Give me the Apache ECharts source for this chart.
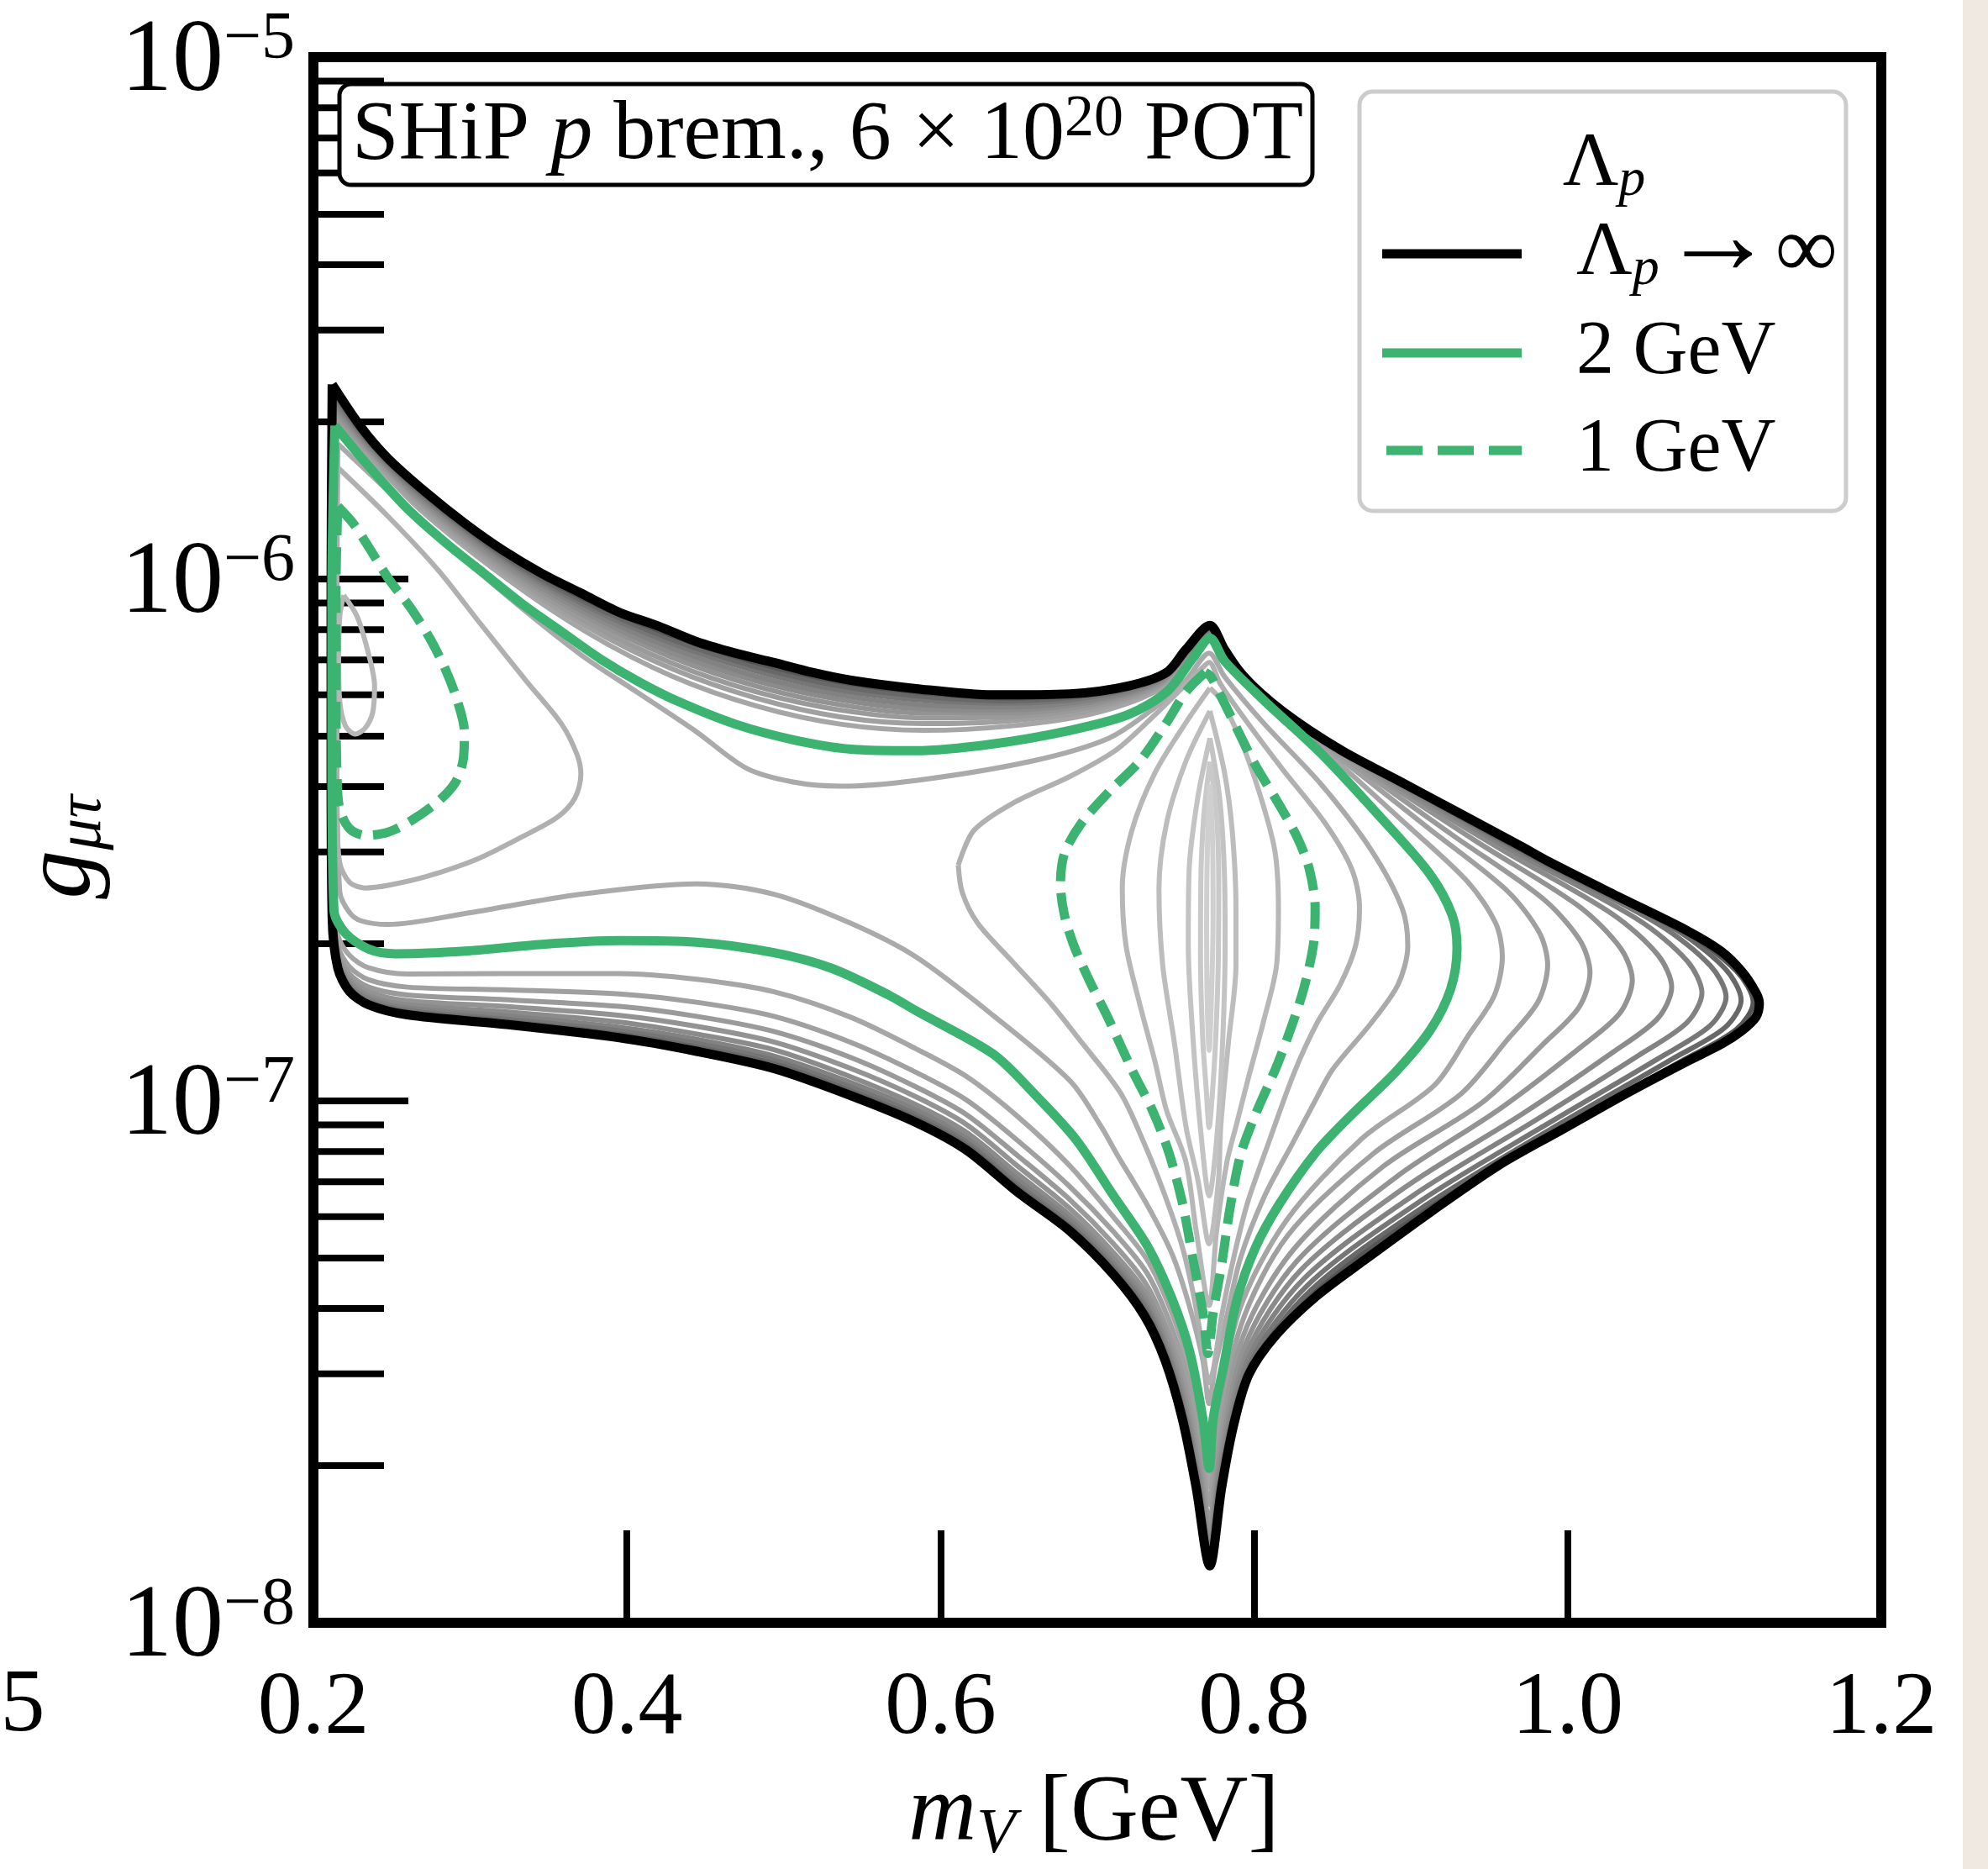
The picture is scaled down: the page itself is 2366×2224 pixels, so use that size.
<!DOCTYPE html>
<html><head><meta charset="utf-8">
<script src="https://cdn.jsdelivr.net/npm/echarts@6/dist/echarts.min.js"></script>
<style>html,body{margin:0;padding:0;background:#fff}#c{width:2366px;height:2224px}</style>
</head><body><div id="c"></div>
<script>
// ---- axis ticks ----
const xTicks = [0.2, 0.4, 0.6, 0.8, 1.0, 1.2];
const yMajorTicks = [1e-8, 1e-7, 1e-6, 1e-5];
const yMinorTicks = [2e-8,3e-8,4e-8,5e-8,6e-8,7e-8,8e-8,9e-8,
                     2e-7,3e-7,4e-7,5e-7,6e-7,7e-7,8e-7,9e-7,
                     2e-6,3e-6,4e-6,5e-6,6e-6,7e-6,8e-6,9e-6];
// ---- contours: [m_V (GeV), log10 g_mu_tau] ----
const blackInf = [[0.2120,-5.627],[0.2304,-5.709],[0.2476,-5.769],[0.2722,-5.835],[0.2968,-5.894],[0.3214,-5.946],[0.3460,-5.990],[0.3706,-6.027],[0.3952,-6.064],[0.4198,-6.090],[0.4444,-6.120],[0.4690,-6.142],[0.4937,-6.160],[0.5183,-6.179],[0.5429,-6.194],[0.5843,-6.210],[0.6334,-6.222],[0.6827,-6.220],[0.7196,-6.205],[0.7442,-6.179],[0.7565,-6.135],[0.7718,-6.089],[0.7811,-6.135],[0.7934,-6.187],[0.8180,-6.253],[0.8549,-6.327],[0.8918,-6.386],[0.9287,-6.445],[0.9701,-6.512],[0.9888,-6.543],[1.0325,-6.609],[1.0763,-6.674],[1.0982,-6.714],[1.1113,-6.753],[1.1201,-6.793],[1.1222,-6.813],[1.1201,-6.839],[1.1113,-6.865],[1.0982,-6.891],[1.0763,-6.924],[1.0360,-6.988],[0.9964,-7.055],[0.9567,-7.122],[0.9139,-7.210],[0.8704,-7.305],[0.8394,-7.375],[0.8136,-7.450],[0.7965,-7.525],[0.7870,-7.620],[0.7793,-7.740],[0.7717,-7.891],[0.7630,-7.740],[0.7542,-7.609],[0.7432,-7.497],[0.7301,-7.412],[0.7104,-7.333],[0.6820,-7.248],[0.6492,-7.175],[0.6164,-7.094],[0.5842,-7.041],[0.5429,-6.990],[0.4937,-6.938],[0.4444,-6.905],[0.3952,-6.879],[0.3214,-6.853],[0.2599,-6.835],[0.2353,-6.816],[0.2230,-6.790],[0.2156,-6.746],[0.2120,-6.650],[0.2113,-6.342],[0.2113,-6.020],[0.2120,-5.627]];
const green2GeV = [[0.2137,-5.706],[0.2353,-5.784],[0.2599,-5.865],[0.2845,-5.931],[0.3091,-5.990],[0.3337,-6.049],[0.3583,-6.101],[0.3830,-6.153],[0.4076,-6.197],[0.4322,-6.234],[0.4690,-6.278],[0.5060,-6.308],[0.5429,-6.326],[0.5842,-6.329],[0.6334,-6.316],[0.6827,-6.290],[0.7196,-6.260],[0.7442,-6.216],[0.7614,-6.150],[0.7718,-6.113],[0.7811,-6.157],[0.8057,-6.231],[0.8426,-6.334],[0.8795,-6.453],[0.9115,-6.563],[0.9263,-6.644],[0.9294,-6.707],[0.9253,-6.786],[0.9122,-6.865],[0.8904,-6.944],[0.8610,-7.030],[0.8390,-7.100],[0.8160,-7.198],[0.8010,-7.280],[0.7892,-7.379],[0.7804,-7.510],[0.7739,-7.609],[0.7713,-7.704],[0.7673,-7.609],[0.7586,-7.477],[0.7476,-7.379],[0.7323,-7.280],[0.7104,-7.182],[0.6861,-7.073],[0.6593,-6.985],[0.6334,-6.910],[0.5842,-6.827],[0.5675,-6.798],[0.5306,-6.746],[0.4937,-6.716],[0.4444,-6.696],[0.3952,-6.693],[0.3460,-6.700],[0.2968,-6.713],[0.2525,-6.718],[0.2353,-6.709],[0.2205,-6.679],[0.2131,-6.635],[0.2118,-6.342],[0.2118,-6.020],[0.2137,-5.706]];
const dashed1GeVLeft = [[0.2156,-5.861],[0.2255,-5.894],[0.2353,-5.939],[0.2476,-5.998],[0.2624,-6.057],[0.2747,-6.116],[0.2845,-6.175],[0.2919,-6.234],[0.2963,-6.293],[0.2956,-6.345],[0.2907,-6.389],[0.2796,-6.426],[0.2624,-6.463],[0.2476,-6.485],[0.2329,-6.491],[0.2230,-6.478],[0.2168,-6.441],[0.2151,-6.382],[0.2144,-6.234],[0.2144,-6.013],[0.2151,-5.902],[0.2156,-5.861]];
const dashed1GeVRight = [[0.7688,-6.179],[0.7565,-6.216],[0.7442,-6.275],[0.7270,-6.349],[0.7073,-6.408],[0.6900,-6.467],[0.6790,-6.526],[0.6765,-6.585],[0.6790,-6.644],[0.6851,-6.703],[0.6950,-6.770],[0.7073,-6.844],[0.7220,-6.940],[0.7354,-7.020],[0.7454,-7.097],[0.7542,-7.195],[0.7608,-7.300],[0.7673,-7.405],[0.7706,-7.484],[0.7739,-7.405],[0.7793,-7.313],[0.7848,-7.202],[0.7914,-7.103],[0.8007,-7.027],[0.8155,-6.925],[0.8303,-6.799],[0.8377,-6.703],[0.8389,-6.630],[0.8352,-6.556],[0.8278,-6.497],[0.8155,-6.430],[0.8007,-6.356],[0.7884,-6.283],[0.7786,-6.223],[0.7724,-6.187],[0.7688,-6.179]];
// grey contours outside the 2 GeV line (L1 nearest green ... L9 nearest black)
const grayL1 = [[0.2130,-5.698],[0.2353,-5.766],[0.2677,-5.866],[0.3214,-5.995],[0.3750,-6.103],[0.4286,-6.186],[0.4822,-6.243],[0.5359,-6.278],[0.5895,-6.290],[0.6431,-6.282],[0.6967,-6.258],[0.7396,-6.211],[0.758,-6.152],[0.7718,-6.111],[0.7811,-6.155],[0.8075,-6.234],[0.8500,-6.342],[0.8959,-6.467],[0.9362,-6.580],[0.9541,-6.660],[0.9583,-6.723],[0.9532,-6.798],[0.9368,-6.874],[0.9150,-6.970],[0.8685,-7.073],[0.8206,-7.229],[0.7905,-7.402],[0.7749,-7.634],[0.7714,-7.740],[0.7665,-7.634],[0.7578,-7.502],[0.7468,-7.401],[0.7319,-7.305],[0.7104,-7.223],[0.6820,-7.123],[0.6492,-7.030],[0.6164,-6.953],[0.5842,-6.900],[0.5429,-6.840],[0.4937,-6.791],[0.4444,-6.767],[0.3952,-6.756],[0.3214,-6.756],[0.2599,-6.757],[0.2353,-6.745],[0.2230,-6.721],[0.2156,-6.683],[0.2117,-6.60],[0.2116,-6.34],[0.2116,-6.02],[0.2130,-5.698]];
const grayL2 = [[0.2130,-5.690],[0.2353,-5.760],[0.2677,-5.859],[0.3214,-5.987],[0.3750,-6.092],[0.4286,-6.172],[0.4822,-6.228],[0.5359,-6.264],[0.5895,-6.277],[0.6431,-6.272],[0.6967,-6.251],[0.7396,-6.206],[0.758,-6.149],[0.7718,-6.108],[0.7811,-6.153],[0.8094,-6.238],[0.8574,-6.350],[0.9123,-6.480],[0.9609,-6.596],[0.9818,-6.677],[0.9872,-6.739],[0.9811,-6.810],[0.9614,-6.883],[0.9317,-6.987],[0.8760,-7.101],[0.8214,-7.258],[0.7916,-7.430],[0.7759,-7.657],[0.7714,-7.773],[0.7657,-7.657],[0.7570,-7.526],[0.7460,-7.423],[0.7315,-7.329],[0.7104,-7.251],[0.6820,-7.163],[0.6492,-7.076],[0.6164,-6.998],[0.5842,-6.945],[0.5429,-6.888],[0.4937,-6.838],[0.4444,-6.811],[0.3952,-6.795],[0.3214,-6.787],[0.2599,-6.782],[0.2353,-6.768],[0.2230,-6.743],[0.2156,-6.703],[0.2117,-6.60],[0.2116,-6.34],[0.2116,-6.02],[0.2130,-5.690]];
const grayL3 = [[0.2130,-5.682],[0.2353,-5.755],[0.2677,-5.853],[0.3214,-5.981],[0.3750,-6.083],[0.4286,-6.161],[0.4822,-6.216],[0.5359,-6.251],[0.5895,-6.266],[0.6431,-6.264],[0.6967,-6.245],[0.7396,-6.203],[0.758,-6.146],[0.7718,-6.106],[0.7811,-6.150],[0.8111,-6.241],[0.8642,-6.357],[0.9276,-6.493],[0.9840,-6.612],[1.0077,-6.692],[1.0142,-6.754],[1.0071,-6.821],[0.9844,-6.891],[0.9455,-7.003],[0.8821,-7.126],[0.8245,-7.287],[0.7928,-7.452],[0.7768,-7.680],[0.7715,-7.805],[0.7650,-7.680],[0.7562,-7.548],[0.7452,-7.443],[0.7311,-7.351],[0.7104,-7.274],[0.6820,-7.188],[0.6492,-7.105],[0.6164,-7.026],[0.5842,-6.973],[0.5429,-6.917],[0.4937,-6.867],[0.4444,-6.838],[0.3952,-6.819],[0.3214,-6.806],[0.2599,-6.797],[0.2353,-6.782],[0.2230,-6.757],[0.2156,-6.715],[0.2117,-6.60],[0.2116,-6.34],[0.2116,-6.02],[0.2130,-5.682]];
const grayL4 = [[0.2130,-5.674],[0.2353,-5.751],[0.2677,-5.848],[0.3214,-5.975],[0.3750,-6.074],[0.4286,-6.150],[0.4822,-6.205],[0.5359,-6.241],[0.5895,-6.257],[0.6431,-6.257],[0.6967,-6.240],[0.7396,-6.200],[0.758,-6.143],[0.7718,-6.103],[0.7811,-6.148],[0.8128,-6.244],[0.8711,-6.364],[0.9429,-6.505],[1.0071,-6.627],[1.0336,-6.707],[1.0412,-6.768],[1.0332,-6.832],[1.0074,-6.899],[0.9563,-7.016],[0.8910,-7.145],[0.8270,-7.308],[0.7940,-7.470],[0.7775,-7.695],[0.7716,-7.827],[0.7645,-7.695],[0.7557,-7.564],[0.7447,-7.457],[0.7308,-7.367],[0.7104,-7.291],[0.6820,-7.205],[0.6492,-7.125],[0.6164,-7.045],[0.5842,-6.992],[0.5429,-6.938],[0.4937,-6.887],[0.4444,-6.857],[0.3952,-6.836],[0.3214,-6.819],[0.2599,-6.808],[0.2353,-6.791],[0.2230,-6.766],[0.2156,-6.724],[0.2117,-6.60],[0.2116,-6.34],[0.2116,-6.02],[0.2130,-5.674]];
const grayL5 = [[0.2130,-5.666],[0.2353,-5.747],[0.2677,-5.844],[0.3214,-5.970],[0.3750,-6.067],[0.4286,-6.141],[0.4822,-6.195],[0.5359,-6.231],[0.5895,-6.249],[0.6431,-6.251],[0.6967,-6.235],[0.7396,-6.197],[0.758,-6.141],[0.7718,-6.101],[0.7811,-6.146],[0.8144,-6.247],[0.8775,-6.371],[0.9571,-6.517],[1.0285,-6.642],[1.0577,-6.721],[1.0663,-6.782],[1.0574,-6.842],[1.0287,-6.907],[0.9700,-7.027],[0.8975,-7.163],[0.8295,-7.325],[0.7952,-7.484],[0.7780,-7.707],[0.7716,-7.844],[0.7641,-7.707],[0.7553,-7.576],[0.7443,-7.468],[0.7307,-7.379],[0.7104,-7.303],[0.6820,-7.218],[0.6492,-7.140],[0.6164,-7.060],[0.5842,-7.007],[0.5429,-6.954],[0.4937,-6.902],[0.4444,-6.872],[0.3952,-6.849],[0.3214,-6.829],[0.2599,-6.816],[0.2353,-6.799],[0.2230,-6.773],[0.2156,-6.731],[0.2117,-6.60],[0.2116,-6.34],[0.2116,-6.02],[0.2130,-5.666]];
const grayL6 = [[0.2130,-5.659],[0.2353,-5.743],[0.2677,-5.839],[0.3214,-5.964],[0.3750,-6.060],[0.4286,-6.132],[0.4822,-6.186],[0.5359,-6.222],[0.5895,-6.241],[0.6431,-6.245],[0.6967,-6.231],[0.7396,-6.194],[0.758,-6.139],[0.7718,-6.099],[0.7811,-6.144],[0.8157,-6.249],[0.8825,-6.376],[0.9680,-6.526],[1.0450,-6.653],[1.0762,-6.732],[1.0856,-6.793],[1.0760,-6.850],[1.0451,-6.913],[0.9795,-7.037],[0.9030,-7.178],[0.8320,-7.340],[0.7963,-7.495],[0.7783,-7.716],[0.7716,-7.857],[0.7638,-7.716],[0.7550,-7.585],[0.7440,-7.476],[0.7305,-7.388],[0.7104,-7.312],[0.6820,-7.227],[0.6492,-7.151],[0.6164,-7.071],[0.5842,-7.017],[0.5429,-6.965],[0.4937,-6.914],[0.4444,-6.882],[0.3952,-6.859],[0.3214,-6.837],[0.2599,-6.822],[0.2353,-6.804],[0.2230,-6.779],[0.2156,-6.735],[0.2117,-6.60],[0.2116,-6.34],[0.2116,-6.02],[0.2130,-5.659]];
const grayL7 = [[0.2130,-5.651],[0.2353,-5.739],[0.2677,-5.835],[0.3214,-5.959],[0.3750,-6.053],[0.4286,-6.123],[0.4822,-6.176],[0.5359,-6.213],[0.5895,-6.232],[0.6431,-6.238],[0.6967,-6.226],[0.7396,-6.191],[0.758,-6.137],[0.7718,-6.096],[0.7811,-6.142],[0.8166,-6.251],[0.8864,-6.380],[0.9768,-6.533],[1.0582,-6.662],[1.0910,-6.741],[1.1010,-6.801],[1.0908,-6.856],[1.0582,-6.918],[0.9865,-7.045],[0.9070,-7.190],[0.8345,-7.352],[0.7972,-7.505],[0.7787,-7.724],[0.7717,-7.869],[0.7635,-7.724],[0.7547,-7.593],[0.7437,-7.483],[0.7304,-7.396],[0.7104,-7.319],[0.6820,-7.235],[0.6492,-7.160],[0.6164,-7.079],[0.5842,-7.026],[0.5429,-6.974],[0.4937,-6.922],[0.4444,-6.890],[0.3952,-6.866],[0.3214,-6.843],[0.2599,-6.827],[0.2353,-6.809],[0.2230,-6.783],[0.2156,-6.739],[0.2117,-6.60],[0.2116,-6.34],[0.2116,-6.02],[0.2130,-5.651]];
const grayL8 = [[0.2130,-5.643],[0.2353,-5.736],[0.2677,-5.831],[0.3214,-5.955],[0.3750,-6.047],[0.4286,-6.116],[0.4822,-6.168],[0.5359,-6.205],[0.5895,-6.225],[0.6431,-6.233],[0.6967,-6.222],[0.7396,-6.189],[0.758,-6.135],[0.7718,-6.094],[0.7811,-6.139],[0.8173,-6.252],[0.8888,-6.383],[0.9822,-6.538],[1.0664,-6.667],[1.1002,-6.746],[1.1106,-6.807],[1.1001,-6.860],[1.0665,-6.920],[0.9915,-7.050],[0.9100,-7.199],[0.8365,-7.362],[0.7980,-7.514],[0.7789,-7.731],[0.7717,-7.878],[0.7633,-7.731],[0.7545,-7.600],[0.7435,-7.489],[0.7303,-7.403],[0.7104,-7.325],[0.6820,-7.240],[0.6492,-7.166],[0.6164,-7.085],[0.5842,-7.032],[0.5429,-6.981],[0.4937,-6.929],[0.4444,-6.897],[0.3952,-6.872],[0.3214,-6.847],[0.2599,-6.830],[0.2353,-6.812],[0.2230,-6.786],[0.2156,-6.742],[0.2117,-6.60],[0.2116,-6.34],[0.2116,-6.02],[0.2130,-5.643]];
const grayL9 = [[0.2130,-5.635],[0.2353,-5.732],[0.2677,-5.827],[0.3214,-5.950],[0.3750,-6.041],[0.4286,-6.108],[0.4822,-6.160],[0.5359,-6.197],[0.5895,-6.218],[0.6431,-6.228],[0.6967,-6.218],[0.7396,-6.186],[0.758,-6.133],[0.7718,-6.091],[0.7811,-6.137],[0.8178,-6.253],[0.8908,-6.385],[0.9866,-6.541],[1.0730,-6.672],[1.1076,-6.751],[1.1183,-6.811],[1.1076,-6.863],[1.0730,-6.923],[0.9950,-7.053],[0.9120,-7.205],[0.8380,-7.370],[0.7985,-7.520],[0.7791,-7.736],[0.7717,-7.885],[0.7631,-7.736],[0.7543,-7.605],[0.7433,-7.493],[0.7302,-7.408],[0.7104,-7.330],[0.6820,-7.244],[0.6492,-7.171],[0.6164,-7.090],[0.5842,-7.037],[0.5429,-6.985],[0.4937,-6.934],[0.4444,-6.901],[0.3952,-6.875],[0.3214,-6.850],[0.2599,-6.833],[0.2353,-6.814],[0.2230,-6.788],[0.2156,-6.744],[0.2117,-6.60],[0.2116,-6.34],[0.2116,-6.02],[0.2130,-5.635]];
// grey contours inside the 2 GeV line
const grayM1 = [[0.2156,-5.741],[0.2599,-5.865],[0.3214,-6.027],[0.3706,-6.145],[0.4076,-6.219],[0.4444,-6.293],[0.4764,-6.363],[0.5059,-6.389],[0.5355,-6.397],[0.5843,-6.386],[0.6580,-6.349],[0.7073,-6.305],[0.7368,-6.246],[0.7565,-6.194],[0.7713,-6.142],[0.7811,-6.187],[0.8057,-6.275],[0.8426,-6.393],[0.8746,-6.519],[0.8943,-6.630],[0.8980,-6.703],[0.8918,-6.777],[0.8746,-6.851],[0.8500,-6.940],[0.8387,-7.001],[0.8242,-7.083],[0.8067,-7.182],[0.7914,-7.300],[0.7826,-7.412],[0.7750,-7.510],[0.7713,-7.580],[0.7673,-7.497],[0.7586,-7.392],[0.7476,-7.293],[0.7323,-7.202],[0.7126,-7.103],[0.7024,-7.049],[0.6827,-6.962],[0.6334,-6.836],[0.5842,-6.724],[0.5429,-6.660],[0.4937,-6.604],[0.4444,-6.584],[0.3706,-6.604],[0.2968,-6.641],[0.2476,-6.662],[0.2304,-6.655],[0.2230,-6.639],[0.2168,-6.599],[0.2150,-6.342],[0.2150,-6.020],[0.2156,-5.741]];
const grayM2Left = [[0.2144,-5.783],[0.2476,-5.880],[0.2796,-5.983],[0.3066,-6.086],[0.3362,-6.197],[0.3583,-6.278],[0.3682,-6.337],[0.3706,-6.374],[0.3669,-6.419],[0.3558,-6.456],[0.3337,-6.493],[0.3042,-6.537],[0.2722,-6.570],[0.2476,-6.587],[0.2329,-6.592],[0.2230,-6.581],[0.2168,-6.544],[0.2151,-6.456],[0.2144,-6.234],[0.2144,-6.013],[0.2144,-5.783]];
const grayM2Right = [[0.6113,-6.548],[0.6212,-6.482],[0.6458,-6.430],[0.6827,-6.378],[0.7122,-6.327],[0.7368,-6.260],[0.7540,-6.209],[0.7663,-6.172],[0.7713,-6.160],[0.7785,-6.201],[0.7957,-6.275],[0.8180,-6.364],[0.8451,-6.467],[0.8623,-6.556],[0.8672,-6.630],[0.8647,-6.703],[0.8549,-6.777],[0.8401,-6.851],[0.8254,-6.947],[0.8089,-7.083],[0.7958,-7.195],[0.7870,-7.300],[0.7793,-7.412],[0.7743,-7.510],[0.7713,-7.540],[0.7673,-7.477],[0.7618,-7.379],[0.7542,-7.280],[0.7432,-7.182],[0.7301,-7.083],[0.7148,-6.985],[0.6900,-6.888],[0.6704,-6.814],[0.6458,-6.733],[0.6236,-6.659],[0.6138,-6.600],[0.6113,-6.548]];
const grayI1Left = [[0.2193,-6.031],[0.2279,-6.072],[0.2353,-6.145],[0.2390,-6.205],[0.2378,-6.256],[0.2329,-6.286],[0.2267,-6.297],[0.2205,-6.282],[0.2168,-6.234],[0.2161,-6.160],[0.2168,-6.072],[0.2193,-6.031]];
const grayI1Right = [[0.7718,-6.209],[0.7565,-6.275],[0.7368,-6.371],[0.7220,-6.482],[0.7159,-6.593],[0.7183,-6.703],[0.7270,-6.814],[0.7368,-6.925],[0.7440,-7.017],[0.7564,-7.116],[0.7630,-7.248],[0.7713,-7.392],[0.7761,-7.248],[0.7827,-7.116],[0.7884,-7.049],[0.7958,-6.962],[0.8057,-6.851],[0.8143,-6.740],[0.8155,-6.630],[0.8131,-6.519],[0.8032,-6.408],[0.7909,-6.305],[0.7786,-6.231],[0.7718,-6.209]];
const grayI2 = [[0.7718,-6.253],[0.7565,-6.349],[0.7442,-6.467],[0.7393,-6.593],[0.7417,-6.740],[0.7491,-6.888],[0.7565,-7.049],[0.7643,-7.154],[0.7713,-7.274],[0.7772,-7.154],[0.7787,-7.049],[0.7836,-6.888],[0.7884,-6.740],[0.7884,-6.630],[0.7860,-6.482],[0.7811,-6.371],[0.7718,-6.253]];
const grayI3 = [[0.7718,-6.305],[0.7640,-6.420],[0.7585,-6.560],[0.7580,-6.700],[0.7610,-6.880],[0.7660,-7.060],[0.7713,-7.182],[0.7765,-7.060],[0.7800,-6.880],[0.7815,-6.700],[0.7810,-6.560],[0.7780,-6.420],[0.7718,-6.305]];
const grayI4 = [[0.7718,-6.350],[0.7680,-6.450],[0.7660,-6.580],[0.7658,-6.720],[0.7672,-6.880],[0.7695,-6.980],[0.7713,-7.051],[0.7735,-6.980],[0.7755,-6.880],[0.7772,-6.720],[0.7774,-6.580],[0.7760,-6.450],[0.7718,-6.350]];
const grayI5 = [[0.7718,-6.393],[0.7703,-6.500],[0.7697,-6.650],[0.7700,-6.800],[0.7713,-6.903],[0.7728,-6.800],[0.7738,-6.650],[0.7735,-6.500],[0.7718,-6.393]];

const outerGrays = [grayL1, grayL2, grayL3, grayL4, grayL5, grayL6, grayL7, grayL8, grayL9];
const outerColors = ['#a6a6a6','#a0a0a0','#9a9a9a','#939393','#8b8b8b','#828282','#767676','#686868','#565656'];
const innerGrays = [[grayM1,'#aaaaaa'],[grayM2Left,'#b0b0b0'],[grayM2Right,'#b0b0b0'],[grayI1Left,'#b7b7b7'],[grayI1Right,'#b7b7b7'],[grayI2,'#bdbdbd'],[grayI3,'#c3c3c3'],[grayI4,'#c9c9c9'],[grayI5,'#cfcfcf']];

const FONT = 'Liberation Serif';
const GREEN = '#3cb371';

function toData(arr){ return arr.map(p => [p[0], Math.pow(10, p[1])]); }
function mk(arr, color, width, z, type){
  return {type:'line', data: toData(arr), showSymbol:false, symbol:'none', smooth:0.3,
    lineStyle:{color:color, width:width, type: type || 'solid', cap:'butt', join:'round'},
    z:z, silent:true, animation:false, clip:true};
}
const series = [];
outerGrays.forEach((c,i)=>series.push(mk(c, outerColors[i], 6, 3)));
innerGrays.forEach(c=>series.push(mk(c[0], c[1], 6, 3)));
series.push(mk(blackInf, '#000000', 11, 4));
series.push(mk(green2GeV, GREEN, 11, 5));
series.push(mk(dashed1GeVLeft, GREEN, 11, 6, [32,14]));
series.push(mk(dashed1GeVRight, GREEN, 11, 6, [32,14]));
// minor ticks on the log axis
series.push({type:'custom', coordinateSystem:'cartesian2d', silent:true, animation:false, clip:false, z:2,
  data: yMinorTicks.map(v=>[0.2, v]), encode:{x:0,y:1},
  renderItem:function(params, api){
    const p = api.coord([api.value(0), api.value(1)]);
    return {type:'line', shape:{x1:p[0], y1:p[1], x2:p[0]+84, y2:p[1]}, style:{stroke:'#000', lineWidth:8}};
  }});

const chart = echarts.init(document.getElementById('c'), null, {renderer:'canvas'});
chart.setOption({
  animation:false,
  backgroundColor:'#ffffff',
  grid:{left:373, right:127, top:68, bottom:293, show:true, borderColor:'#000', borderWidth:12, backgroundColor:'transparent'},
  xAxis:{type:'value', min:xTicks[0], max:xTicks[xTicks.length-1], interval:0.2,
    axisLine:{show:true, lineStyle:{color:'#000', width:12}},
    axisTick:{show:true, inside:true, length:110, lineStyle:{color:'#000', width:8}},
    splitLine:{show:false},
    axisLabel:{margin:50, color:'#000', fontFamily:FONT, fontSize:106, formatter:v=>v.toFixed(1)}},
  yAxis:{type:'log', logBase:10, min:yMajorTicks[0], max:yMajorTicks[yMajorTicks.length-1],
    axisLine:{show:true, lineStyle:{color:'#000', width:12}},
    axisTick:{show:true, inside:true, length:113, lineStyle:{color:'#000', width:8}},
    minorTick:{show:false}, splitLine:{show:false},
    axisLabel:{margin:22, color:'#000', formatter:function(v){
        const e = Math.round(Math.log10(v));
        return '{b|10}{s|\u2212' + Math.abs(e) + '}';
      },
      rich:{b:{fontFamily:FONT, fontSize:122, lineHeight:122, padding:[14,0,0,0], color:'#000'},
            s:{fontFamily:FONT, fontSize:80, lineHeight:80, padding:[8,0,48,0], color:'#000'}}}},
  series: series,
  graphic:[
    {type:'rect', left:2336, top:0, shape:{width:30, height:2224}, style:{fill:'#efe9e1'}, z:0, silent:true},
    {type:'text', x:27, y:2031, style:{text:'5', fontFamily:FONT, fontSize:106, fill:'#000', align:'center', verticalAlign:'middle'}, z:10},
    // text box
    {type:'rect', shape:{x:404, y:100, width:1158, height:120, r:14}, style:{fill:'#fff', stroke:'#000', lineWidth:5}, z:20},
    {type:'text', x:419, y:162, z:21, style:{text:'{n|SHiP }{i|p}{n| brem., 6 \u00d7 10}{s|20}{n| POT}',
      align:'left', verticalAlign:'middle',
      rich:{n:{fontFamily:FONT, fontSize:100, lineHeight:104, fill:'#000'},
            i:{fontFamily:FONT, fontStyle:'italic', fontSize:100, lineHeight:104, fill:'#000'},
            s:{fontFamily:FONT, fontSize:70, lineHeight:70, padding:[0,0,38,0], fill:'#000'}}}},
    // legend
    {type:'rect', shape:{x:1618, y:109, width:579, height:499, r:16}, style:{fill:'#fff', stroke:'#cccccc', lineWidth:5}, z:20},
    {type:'text', x:1909, y:196, z:21, style:{text:'{n|\u039b}{i|p}', align:'center', verticalAlign:'middle',
      rich:{n:{fontFamily:FONT, fontSize:92, lineHeight:100, fill:'#000'},
            i:{fontFamily:FONT, fontStyle:'italic', fontSize:64, lineHeight:64, padding:[38,0,0,0], fill:'#000'}}}},
    {type:'line', shape:{x1:1645, y1:302, x2:1811, y2:302}, style:{stroke:'#000', lineWidth:11}, z:21},
    {type:'line', shape:{x1:1645, y1:420, x2:1811, y2:420}, style:{stroke:GREEN, lineWidth:11}, z:21},
    {type:'line', shape:{x1:1650, y1:536, x2:1811, y2:536}, style:{stroke:GREEN, lineWidth:11, lineDash:[43,18]}, z:21},
    {type:'text', x:1876, y:302, z:21, style:{text:'{n|\u039b}{i|p}{a|\u2192}{f|\u221e}', align:'left', verticalAlign:'middle',
      rich:{n:{fontFamily:FONT, fontSize:92, lineHeight:100, fill:'#000'},
            i:{fontFamily:FONT, fontStyle:'italic', fontSize:64, lineHeight:64, padding:[38,0,0,0], fill:'#000'},
            a:{fontFamily:FONT, fontSize:136, lineHeight:100, padding:[0,0,26,2], fill:'#000'},
            f:{fontFamily:FONT, fontSize:104, lineHeight:100, fill:'#000'}}}},
    {type:'text', x:1876, y:420, z:21, style:{text:'2 GeV', fontFamily:FONT, fontSize:90, fill:'#000', align:'left', verticalAlign:'middle'}},
    {type:'text', x:1876, y:536, z:21, style:{text:'1 GeV', fontFamily:FONT, fontSize:90, fill:'#000', align:'left', verticalAlign:'middle'}},
    // axis titles
    {type:'text', x:1302, y:2160, z:21, style:{text:'{i|m}{sub|V}{n| [GeV]}', align:'center', verticalAlign:'middle',
      rich:{n:{fontFamily:FONT, fontSize:112, lineHeight:120, fill:'#000'},
            i:{fontFamily:FONT, fontStyle:'italic', fontSize:112, lineHeight:120, fill:'#000'},
            sub:{fontFamily:FONT, fontStyle:'italic', fontSize:76, lineHeight:76, padding:[48,0,0,0], fill:'#000'}}}},
    {type:'text', x:75, y:1008, rotation:Math.PI/2, z:21, style:{text:'{i|g}{sub|\u03bc\u03c4}', align:'center', verticalAlign:'middle',
      rich:{i:{fontFamily:FONT, fontStyle:'italic', fontSize:116, lineHeight:120, fill:'#000'},
            sub:{fontFamily:FONT, fontStyle:'italic', fontSize:76, lineHeight:76, padding:[48,0,0,0], fill:'#000'}}}}
  ]
});
</script></body></html>
